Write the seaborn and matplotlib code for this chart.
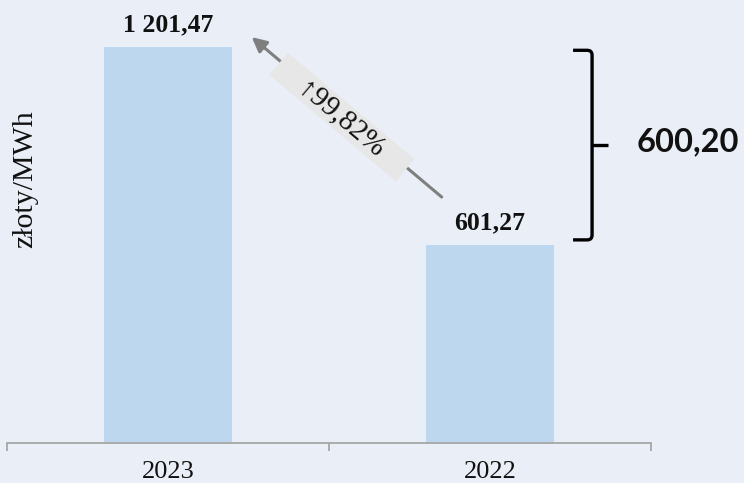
import numpy as np
import pandas as pd
import matplotlib
matplotlib.use("Agg")
import matplotlib.pyplot as plt
from matplotlib.path import Path
from matplotlib.patches import PathPatch
import seaborn as sns

# ---- data ----
years = ["2023", "2022"]
prices = [1201.47, 601.27]
y_label = "złoty/MWh"

BG = "#E9EEF7"
BAR = "#BDD7EE"
AX = "#A6A6A6"

sns.set_theme(style="white", rc={"axes.facecolor": BG, "figure.facecolor": BG})
plt.rcParams["font.family"] = ["Liberation Serif", "DejaVu Serif"]


def fmt(v):
    s = f"{v:,.2f}"
    return s.replace(",", " ").replace(".", ",")


W, H = 744, 483
fig = plt.figure(figsize=(W / 100, H / 100), dpi=100)
ymax = 1300
px_per_unit = 396 / 1201.47
ax_h = ymax * px_per_unit
ax = fig.add_axes([7 / W, 40 / H, 644 / W, ax_h / H])

df = pd.DataFrame({"year": years, "price": prices})
sns.barplot(data=df, x="year", y="price", order=years, color=BAR,
            saturation=1, width=0.4, linewidth=0, edgecolor="none", ax=ax)

ax.set_xlim(-0.5, 1.5)
ax.set_ylim(0, ymax)
for s in ["top", "right", "left"]:
    ax.spines[s].set_visible(False)
ax.spines["bottom"].set_color(AX)
ax.spines["bottom"].set_linewidth(1.3)
ax.set_yticks([])
ax.set_ylabel("")
ax.set_xlabel("")
ax.tick_params(axis="x", which="major", length=0, pad=13, labelsize=19,
               labelcolor="#111111")
ax.set_xticks([-0.5, 0.5, 1.5], minor=True)
ax.tick_params(axis="x", which="minor", bottom=True, length=5.5, width=1.3,
               color=AX, direction="out")

# value labels
for i, v in enumerate(prices):
    ax.annotate(fmt(v), xy=(i, v), xytext=(0, 11), textcoords="offset points",
                ha="center", va="baseline", fontsize=18.5, fontweight="bold",
                color="#111111")

# y label
fig.text(25 / W, 1 - 179 / H, y_label, rotation=90, ha="center", va="center",
         fontsize=21.5, color="#111111")

# arrow between bars
v1, v2 = prices
tip = (0.26, v1 + 30)
tail = (0.85, v2 + 145)
ax.annotate("", xy=tip, xytext=tail, xycoords="data",
            arrowprops=dict(arrowstyle="-|>", color="#7F7F7F", lw=2.2,
                            mutation_scale=22, shrinkA=0, shrinkB=0),
            annotation_clip=False)
fig.canvas.draw()
p1 = ax.transData.transform(tip)
p2 = ax.transData.transform(tail)
ang = np.degrees(np.arctan2(p2[1] - p1[1], p2[0] - p1[0]))
pct = (v1 / v2 - 1) * 100
pct_txt = f"{pct:.2f}".replace(".", ",") + "%"
ax.text(0.54, 989, "    \u2191" + pct_txt + "    ", rotation=ang,
        rotation_mode="anchor", ha="center", va="center", fontsize=21,
        color="#111111",
        bbox=dict(boxstyle="square,pad=0.05", fc="#E7E7E7", ec="none"))

# bracket
xl, xv, xt = 1.258, 1.317, 1.366
T, B = v1 - 10, v2 + 15
M = (T + B) / 2
rx, ry = 0.015, 15
verts = [(xl, T), (xv - rx, T), (xv, T), (xv, T - ry), (xv, B + ry),
         (xv, B), (xv - rx, B), (xl, B)]
codes = [Path.MOVETO, Path.LINETO, Path.CURVE3, Path.CURVE3, Path.LINETO,
         Path.CURVE3, Path.CURVE3, Path.LINETO]
ax.add_patch(PathPatch(Path(verts, codes), fc="none", ec="black", lw=2.4,
                       clip_on=False, capstyle="butt"))
ax.plot([xv, xt], [M, M], color="black", lw=2.4, clip_on=False,
        solid_capstyle="butt")
ax.text(1.4565, M + 10, fmt(v1 - v2), ha="left", va="center", fontsize=23.5,
        fontweight="bold", family=["Lato", "DejaVu Sans"], color="#111111")

fig.savefig("out.png", dpi=100, facecolor=BG)
